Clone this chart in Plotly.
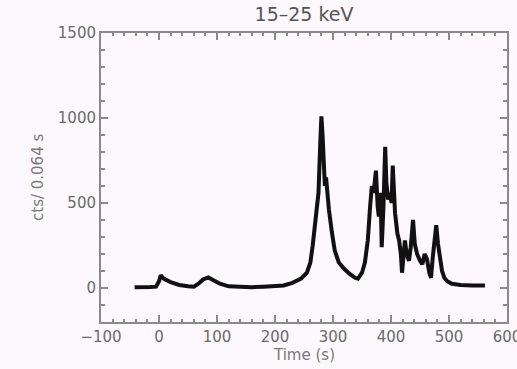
import plotly.graph_objects as go

time_s = [-42, -30, -15, -5, 0, 3, 8, 20, 35, 50, 60, 68, 76, 85, 95, 105, 120, 140, 160, 180,
          200, 215, 230, 245, 255, 261, 265, 268, 272, 275, 278, 280, 282, 284, 286, 288, 290,
          293, 298, 303, 310, 320, 330, 338, 343, 350, 355, 360, 364, 367, 370, 374, 377, 379,
          382, 384, 387, 390, 392, 395, 398, 401, 403, 405, 407, 411, 414, 417, 419, 422, 424,
          427, 431, 434, 438, 441, 445, 450, 454, 458, 462, 466, 469, 472, 476, 478, 481, 484,
          488, 492, 497, 505, 520, 540, 562]
counts = [5, 3, 6, 8, 40, 75, 55, 35, 18, 10, 8, 25, 50, 62, 45, 25, 10, 6, 5, 8,
          10, 15, 30, 55, 90, 150, 250, 350, 460, 560, 850, 1010, 900, 780, 600, 650, 560,
          460, 330, 220, 150, 110, 80, 60, 55, 90, 150, 280, 480, 600, 560, 690, 480, 420,
          560, 240, 480, 830, 620, 520, 560, 500, 720, 560, 440, 320, 280, 200, 90, 200, 280,
          200, 160, 240, 400, 260, 200, 160, 140, 200, 170, 90, 60, 180, 300, 370, 260, 180,
          100, 60, 40, 25, 18, 15, 15]

title_text = "15\u201325 keV"
x_title = "Time (s)"
y_title = "cts/ 0.064 s"
x_ticks = [-100, 0, 100, 200, 300, 400, 500, 600]
y_ticks = [0, 500, 1000, 1500]

bg = "#fcf8fc"
axis_col = "#8a8a8a"
font_fam = "DejaVu Sans"

fig = go.Figure()
fig.add_trace(go.Scatter(x=time_s, y=counts, mode="lines",
                         line=dict(color="#111111", width=4), showlegend=False))

axis_common = dict(showgrid=False, zeroline=False, showline=True, linecolor=axis_col, linewidth=2,
                   mirror="allticks", ticks="inside", tickcolor=axis_col, tickwidth=1.5,
                   ticklabeloverflow="allow", automargin=False,
                   tickfont=dict(family=font_fam, size=15, color="#6a6a6a"))

fig.update_xaxes(range=[-100, 600], tickvals=x_ticks, ticklen=7,
                 minor=dict(dtick=20, ticks="inside", ticklen=3, tickcolor=axis_col, tickwidth=1.5),
                 **axis_common)
fig.update_yaxes(range=[-200, 1500], tickvals=y_ticks, ticklen=7,
                 minor=dict(dtick=100, ticks="inside", ticklen=4, tickcolor=axis_col, tickwidth=1.5),
                 **axis_common)

fig.update_layout(
    width=517, height=369,
    margin=dict(l=101, r=10, t=33, b=47),
    paper_bgcolor=bg, plot_bgcolor=bg,
    title=dict(text=title_text, x=0.5, xanchor="center", y=1 - 14 / 369, yanchor="middle",
               xref="paper", font=dict(family=font_fam, size=19, color="#555555")),
    annotations=[
        dict(text=x_title, xref="paper", yref="paper", x=0.5, y=-(355 - 322) / 289,
             xanchor="center", yanchor="middle", showarrow=False,
             font=dict(family=font_fam, size=15, color="#7a7a7a")),
        dict(text=y_title, xref="paper", yref="paper", x=-(101 - 38) / 406, y=(322 - 178) / 289,
             xanchor="center", yanchor="middle", textangle=-90, showarrow=False,
             font=dict(family=font_fam, size=15, color="#7a7a7a")),
    ],
)

fig.write_html("out.html", config={"displayModeBar": False},
               post_script="document.body.style.margin='0';document.body.style.background='%s';" % bg)
